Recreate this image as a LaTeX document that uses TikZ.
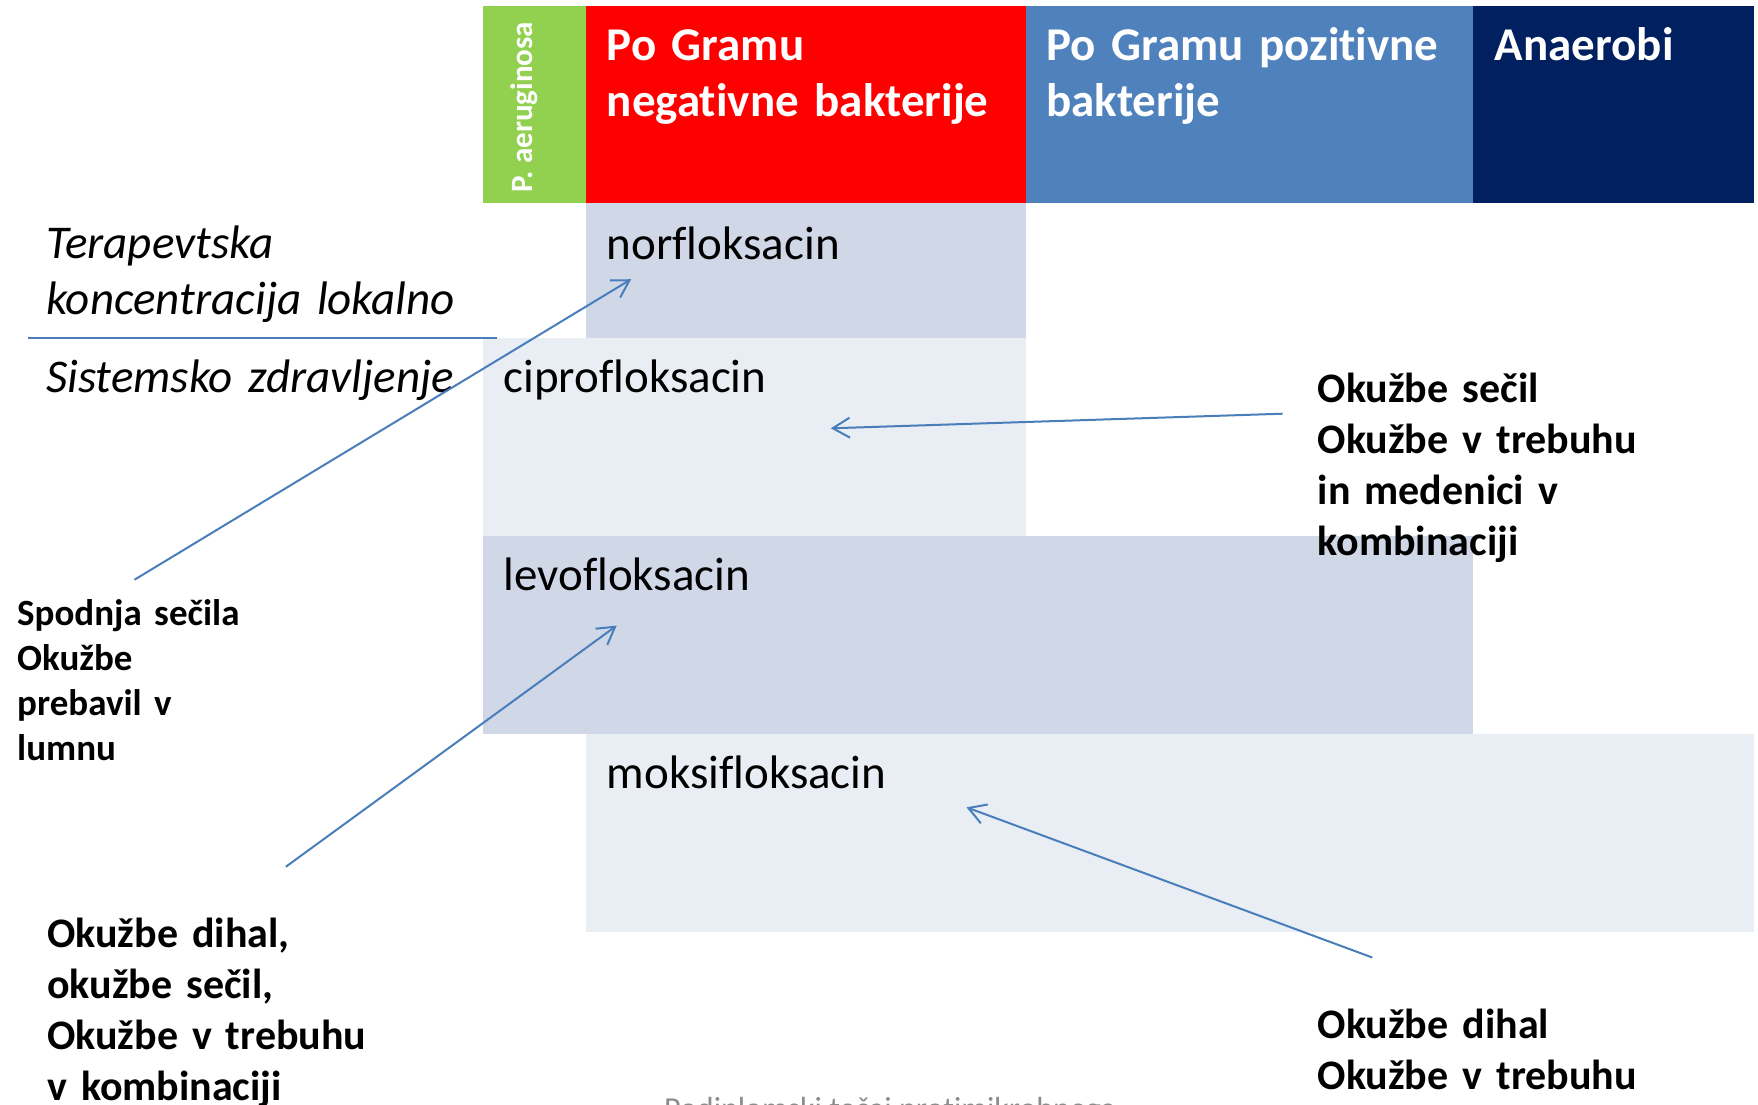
\documentclass[tikz,border=0pt]{standalone}
\usepackage{fontspec}
\setmainfont{Carlito}[Ligatures=NoCommon]
\usetikzlibrary{arrows.meta}
\definecolor{pgreen}{HTML}{92D050}
\definecolor{pred}{HTML}{FF0000}
\definecolor{pblue}{HTML}{4F81BD}
\definecolor{pnavy}{HTML}{002060}
\definecolor{boxdark}{HTML}{D0D8E8}
\definecolor{boxlight}{HTML}{E9EDF4}
\definecolor{lineblue}{HTML}{4A7EBB}
\definecolor{footgrey}{HTML}{8C8C8C}
\begin{document}
\begin{tikzpicture}[x=1pt,y=-1pt,
  cell/.style={draw=none, inner sep=0pt, outer sep=0pt, anchor=north west},
  hdr/.style={anchor=base west, inner sep=0pt, text=white, align=left, text width=430pt,
    font=\fontsize{47}{56}\bfseries\selectfont},
  drug/.style={anchor=base west, inner sep=0pt, font=\fontsize{47}{56}\selectfont},
  ital/.style={anchor=base west, inner sep=0pt, align=left, text width=460pt,
    font=\fontsize{47}{56}\itshape\selectfont},
  note/.style={anchor=base west, inner sep=0pt, align=left, text width=420pt,
    font=\fontsize{42}{51}\bfseries\selectfont},
  smallnote/.style={anchor=base west, inner sep=0pt, align=left, text width=300pt,
    font=\fontsize{37}{45}\bfseries\selectfont},
  arr/.style={draw=lineblue, line width=2pt, -{Straight Barb[length=17pt,width=20pt,line width=2pt]}}
]
\useasboundingbox (0,0) rectangle (1758,1104);
\fill[white] (0,0) rectangle (1758,1104);

% header cells
\node[cell, fill=pgreen, minimum width=103pt, minimum height=197pt] (hgreen) at (483,6) {};
\node[cell, fill=pred, minimum width=440pt, minimum height=197pt] (hred) at (586,6) {};
\node[cell, fill=pblue, minimum width=447pt, minimum height=197pt] (hblue) at (1026,6) {};
\node[cell, fill=pnavy, minimum width=281pt, minimum height=197pt] (hnavy) at (1473,6) {};

% drug rows
\node[cell, fill=boxdark, minimum width=440pt, minimum height=134.5pt] (rnor) at (586,203) {};
\node[cell, fill=boxlight, minimum width=543pt, minimum height=198.5pt] (rcip) at (483,337.5) {};
\node[cell, fill=boxdark, minimum width=990pt, minimum height=198pt] (rlev) at (483,536) {};
\node[cell, fill=boxlight, minimum width=1168pt, minimum height=198pt] (rmox) at (586,734) {};

% header texts
\node[rotate=90, inner sep=0pt, text=white, font=\fontsize{31}{36}\bfseries\selectfont] (tpa) at (524,107) {P. aeruginosa};
\node[hdr] (tneg) at (606.6,60) {Po Gramu\\negativne bakterije};
\node[hdr] (tpos) at (1046,60) {Po Gramu pozitivne\\bakterije};
\node[hdr] (tana) at (1494.6,60) {Anaerobi};

% drug names
\node[drug] (tnor) at (606.6,259) {norfloksacin};
\node[drug] (tcip) at (503.4,392) {ciprofloksacin};
\node[drug] (tlev) at (503.4,590) {levofloksacin};
\node[drug] (tmox) at (606.6,788) {moksifloksacin};

% left italic texts
\node[ital] (tter) at (46,258) {Terapevtska\\koncentracija lokalno};
\coordinate (rulea) at (28,337.5);
\coordinate (ruleb) at (497,337.5);
\draw[lineblue, line width=2pt] (rulea) -- (ruleb);
\node[ital] (tsis) at (46,392) {Sistemsko zdravljenje};

% annotations
\node[smallnote] (nspod) at (17,625) {Spodnja sečila\\Okužbe\\prebavil v\\lumnu};
\node[note] (nsec) at (1317.5,402) {Okužbe sečil\\Okužbe v trebuhu\\in medenici v\\kombinaciji};
\node[note] (ndih) at (47,947) {Okužbe dihal,\\okužbe sečil,\\Okužbe v trebuhu\\v kombinaciji};
\node[note] (ndih2) at (1317.5,1038) {Okužbe dihal\\Okužbe v trebuhu};

% footer (cut off by page edge, as in the reference)
\node[anchor=base west, inner sep=0pt, text=footgrey, font=\fontsize{32}{38}\selectfont] (foot) at (664,1119) {Podiplomski tečaj protimikrobnega};

% arrows
\coordinate (a1s) at (134.5,579.7);
\coordinate (a1e) at (631.2,279.2);
\coordinate (a2s) at (1282.6,413.7);
\coordinate (a2e) at (830.8,428.3);
\coordinate (a3s) at (285.9,866.7);
\coordinate (a3e) at (616.7,625.6);
\coordinate (a4s) at (1372.3,957.5);
\coordinate (a4e) at (966.5,807.3);
\draw[arr] (a1s) -- (a1e);
\draw[arr] (a2s) -- (a2e);
\draw[arr] (a3s) -- (a3e);
\draw[arr] (a4s) -- (a4e);
\end{tikzpicture}
\end{document}
